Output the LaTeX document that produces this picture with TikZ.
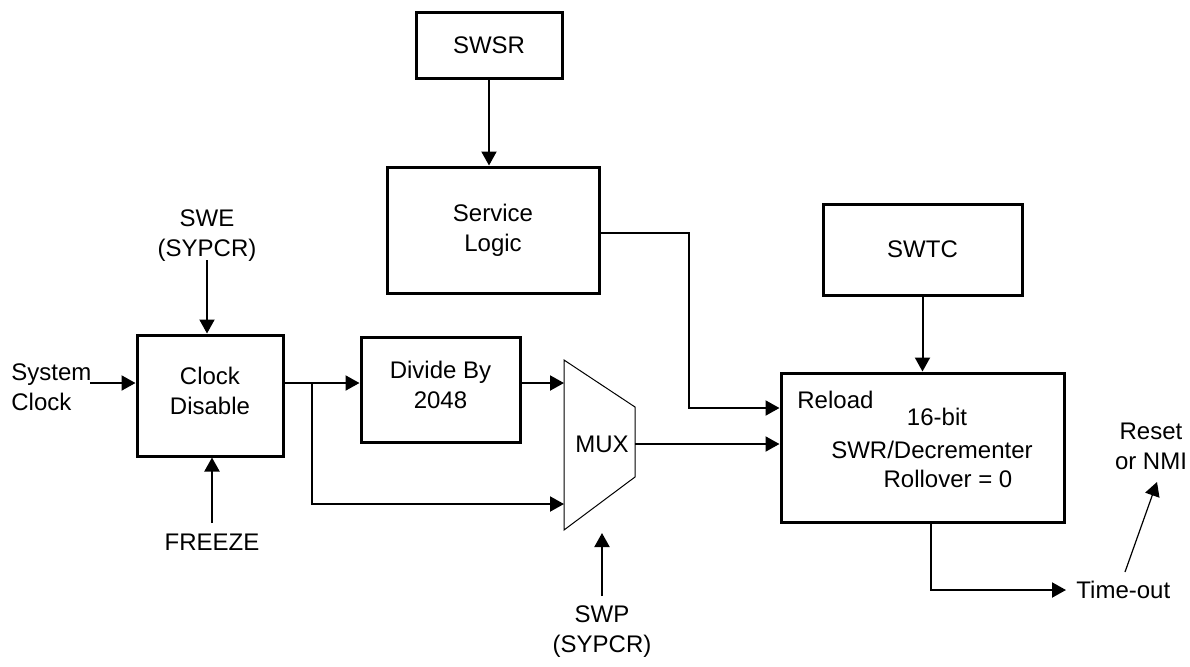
\documentclass[tikz,border=0pt]{standalone}
\usepackage{fontspec}
\setmainfont{Liberation Sans}
\usetikzlibrary{arrows.meta}
\newcommand\dfont{\fontsize{12}{15}\selectfont}
\begin{document}
\begin{tikzpicture}[x=0.5pt,y=-0.5pt,
  box/.style={draw,line width=1.5pt,inner sep=0pt,align=center,font=\dfont},
  lbl/.style={inner sep=0pt,align=center,font=\dfont},
  arr/.style={line width=1pt,-{Triangle[length=7pt,width=7.5pt]}},
  thinarr/.style={line width=0.6pt,-{Triangle[length=7pt,width=7.5pt]}},
  ln/.style={line width=1pt}]
\useasboundingbox (0,0) rectangle (1190,666);

% boxes
\node[box,minimum width=73pt,minimum height=33pt] (swsr) at (489,45) {SWSR};
\node[box,minimum width=106pt,minimum height=63pt] (sl) at (493,230) {Service\\Logic};
\node[box,minimum width=99.5pt,minimum height=45.5pt] (swtc) at (922.5,249.5) {SWTC};
\node[box,minimum width=73pt,minimum height=60.5pt] (cd) at (210,395.5) {};
\node[lbl] (cdt) at (cd) [yshift=2.5pt] {Clock\\Disable};
\node[box,minimum width=79.5pt,minimum height=52.5pt] (dv) at (440.5,389.5) {};
\node[lbl] (dvt) at (dv) [yshift=2.5pt] {Divide By\\2048};
\node[box,minimum width=141.5pt,minimum height=74.5pt] (mb) at (922.5,447.5) {};

% main box texts
\node[lbl,anchor=west] (rl) at (797,400) {Reload};
\node[lbl] (b16) at (937,417) {16-bit};
\node[lbl] (swr) at (932,450) {SWR/Decrementer};
\node[lbl] (ro) at (948,479) {Rollover = 0};

% MUX
\draw[line width=0.5pt] (564,360) -- (635,407) -- (635,477) -- (564,530) -- cycle;
\node[lbl] (mux) at (602,444) {MUX};
\coordinate (m1) at (564,383);
\coordinate (m2) at (564,504);
\coordinate (mo) at (635,444);

% labels
\node[lbl,align=left,anchor=west] (scl) at (11,387) {System\\Clock};
\node[lbl] (swe) at (207,236) {SWE\\(SYPCR)};
\node[lbl] (fr) at (212,542) {FREEZE};
\node[lbl] (swp) at (602,632) {SWP\\(SYPCR)};
\node[lbl,anchor=west] (to) at (1076,590) {Time-out};
\node[lbl] (rn) at (1151,446) {Reset\\or NMI};

% coordinates
\coordinate (sc) at (90,383);
\coordinate (br) at (312,383);
\coordinate (r1) at (689,408);
\coordinate (swetop) at (207,260);
\coordinate (frbot) at (212,523);
\coordinate (swpbot) at (602,596);
\coordinate (swptip) at (602,533);
\coordinate (tc) at (931,590);
\coordinate (a1) at (1125,572);
\coordinate (a2) at (1157,482);

% connectors
\draw[arr] (swsr.south) -- (swsr.south |- sl.north);
\draw[arr] (sl.east |- 0,233) -| (r1) -- (r1 -| mb.west);
\draw[arr] (swtc.south) -- (mb.north);
\draw[arr] (sc) -- (sc -| cd.west);
\draw[arr] (swetop) -- (swetop |- cd.north);
\draw[arr] (frbot) -- (frbot |- cd.south);
\draw[arr] (br -| cd.east) -- (br -| dv.west);
\draw[arr] (br) |- (m2);
\draw[arr] (m1 -| dv.east) -- (m1);
\draw[arr] (mo) -- (mo -| mb.west);
\draw[arr] (swpbot) -- (swptip);
\draw[arr] (tc |- mb.south) |- ([xshift=-5pt]to.west);
\draw[thinarr] (a1) -- (a2);
\end{tikzpicture}
\end{document}
